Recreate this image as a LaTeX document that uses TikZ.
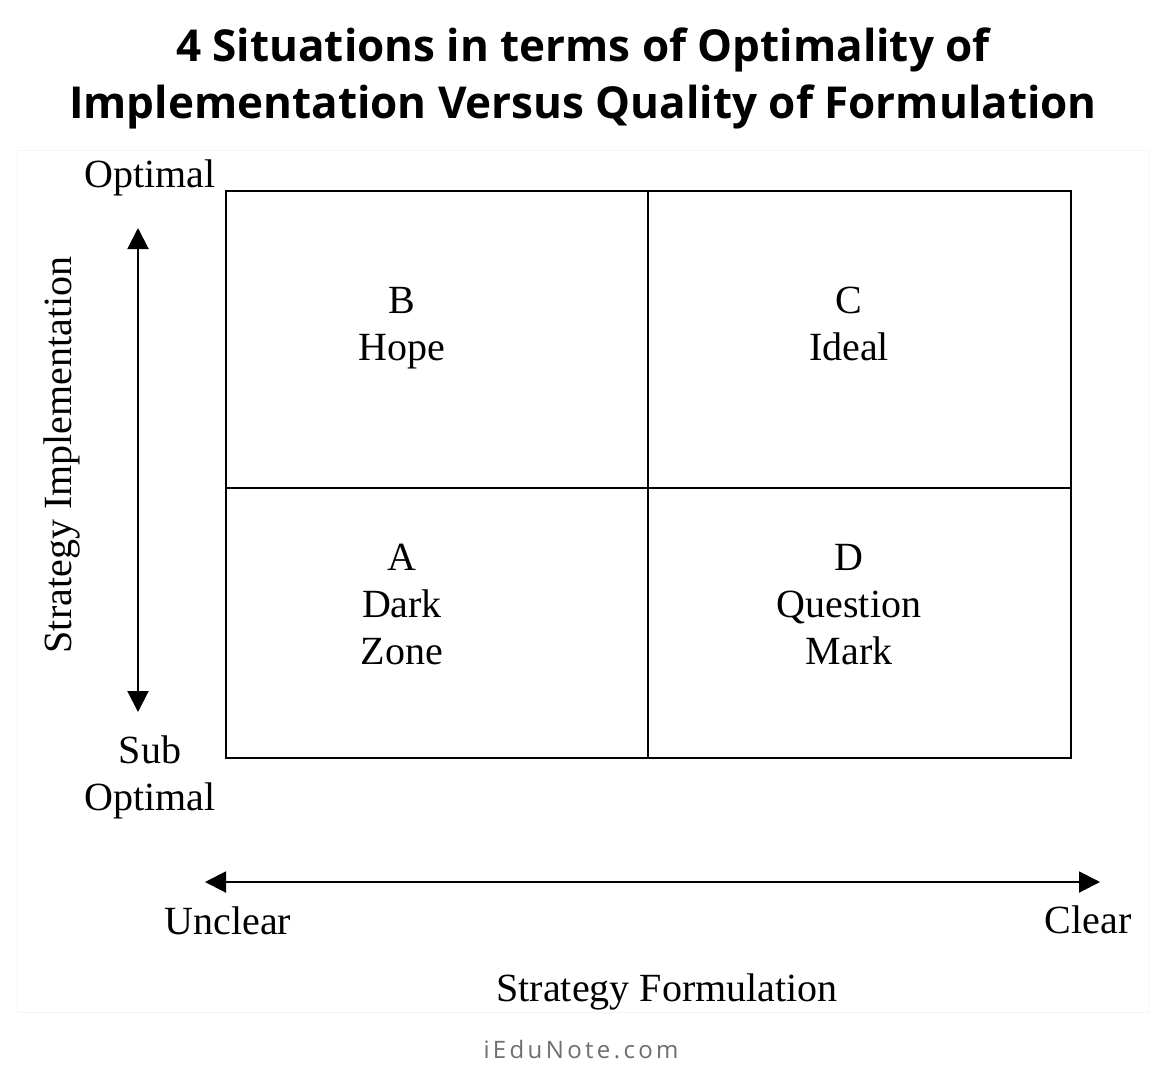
\documentclass[tikz,border=0pt]{standalone}
\usepackage{fontspec}
\setmainfont{Liberation Serif}
\newfontfamily\titlefont{Open Sans}
\newfontfamily\markfont[LetterSpace=14]{Open Sans}
\usetikzlibrary{arrows.meta,positioning}
\definecolor{markgray}{RGB}{110,110,110}
\tikzset{
  lab/.style={font=\fontsize{40}{47}\selectfont, inner sep=0pt, align=center},
  head/.style={font=\titlefont\bfseries\fontsize{44}{57}\selectfont, inner sep=0pt},
  axis/.style={line width=2pt, {Triangle[length=21pt,width=21pt]}-{Triangle[length=21pt,width=21pt]}},
  cell/.style={draw, line width=2pt},
}
\begin{document}
\begin{tikzpicture}[x=1pt,y=-1pt]
  \useasboundingbox (0,0) rectangle (1163,1080);
  \draw[black!4] (17,150) rectangle (1148,1012);

  % Define nodes
  \node[head, anchor=base] (title-a) at (583,61) {4 Situations in terms of Optimality of};
  \node[head, anchor=base] (title-b) at (583,118) {Implementation Versus Quality of Formulation};

  \coordinate (tl)  at (226,191);
  \coordinate (br)  at (1071,758);
  \coordinate (mid) at (648,488);

  % multi-line nodes sit on their last line
  \node[lab, anchor=base] (b) at (402,360) {B\\Hope};
  \node[lab, anchor=base] (c) at (849,360) {C\\Ideal};
  \node[lab, anchor=base] (a) at (402,664) {A\\Dark\\Zone};
  \node[lab, anchor=base] (d) at (849,664) {D\\Question\\Mark};

  \coordinate (imp-top)  at (138,228);
  \coordinate (imp-bot)  at (138,712);
  \coordinate (form-left)  at (205,882);
  \coordinate (form-right) at (1100,882);

  \node[lab, anchor=base]  (optimal)     at (150,187) {Optimal};
  \node[lab, anchor=base]  (sub-optimal) at (150,810) {Sub\\Optimal};
  \node[lab, rotate=90]    (impl)        at (62,455)  {Strategy Implementation};
  \node[lab, anchor=base]  (unclear)     at (228,934) {Unclear};
  \node[lab, anchor=base]  (clear)       at (1088,933) {Clear};
  \node[lab, anchor=base]  (formulation) at (667,1001) {Strategy Formulation};
  \node[font=\markfont\fontsize{24}{24}\selectfont, text=markgray, anchor=base] (mark) at (581,1058) {iEduNote.com};

  % Connect the nodes
  \draw[cell] (tl) rectangle (br);
  \draw[cell] (tl -| mid) -- (br -| mid);
  \draw[cell] (tl |- mid) -- (br |- mid);
  \draw[axis] (imp-top) -- (imp-bot);
  \draw[axis] (form-left) -- (form-right);

\end{tikzpicture}
\end{document}
